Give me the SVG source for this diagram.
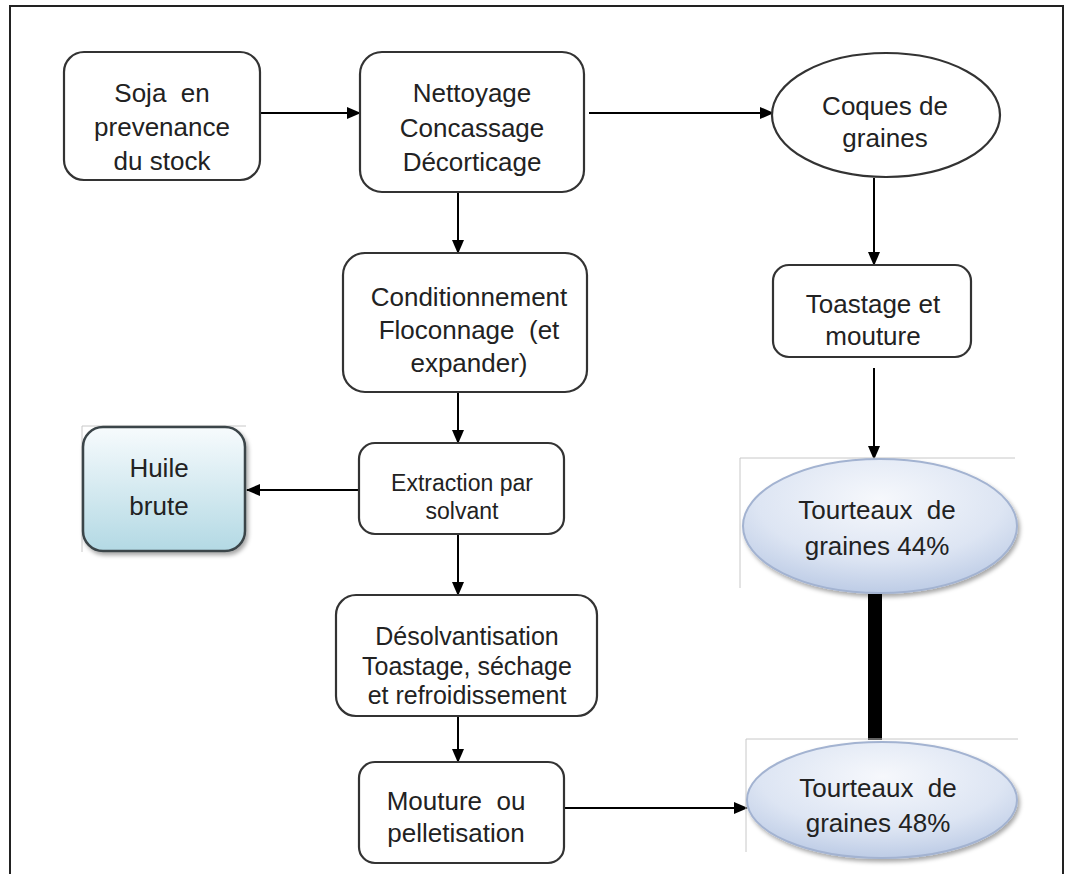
<svg xmlns="http://www.w3.org/2000/svg" width="1075" height="874" viewBox="0 0 1075 874">
<style>
.box{fill:#fff;stroke:#333;stroke-width:2.2}
.t{font-family:"Liberation Sans",Arial,sans-serif;font-size:26px;fill:#222;text-anchor:middle;white-space:pre}
.conn{stroke:#000;stroke-width:2;fill:none;marker-end:url(#arr)}
.faint{stroke:#c8c8c8;stroke-width:1;fill:none}
.oval{fill:url(#blue);stroke:#a3b3d1;stroke-width:2}
</style>
<defs>
<marker id="arr" markerUnits="userSpaceOnUse" markerWidth="14" markerHeight="12" refX="13" refY="6" orient="auto">
<path d="M0,0 L14,6 L0,12 Z" fill="#000"/>
</marker>
<linearGradient id="teal" x1="0" y1="0" x2="0" y2="1">
<stop offset="0" stop-color="#f7fbfd"/>
<stop offset="1" stop-color="#b3d9e4"/>
</linearGradient>
<radialGradient id="blue" cx="0.5" cy="0.3" r="0.75">
<stop offset="0" stop-color="#f6f8fc"/>
<stop offset="0.6" stop-color="#dde5f3"/>
<stop offset="1" stop-color="#b7c7e3"/>
</radialGradient>
<filter id="sh" x="-10%" y="-10%" width="130%" height="130%">
<feDropShadow dx="2" dy="3" stdDeviation="2" flood-color="#000" flood-opacity="0.35"/>
</filter>
</defs>
<rect width="1075" height="874" fill="#fff"/>
<path d="M10,874 V6 H1063 V874" fill="none" stroke="#222" stroke-width="2"/>

<g id="connectors">
<line class="conn" x1="260" y1="113" x2="360" y2="113"/>
<line class="conn" x1="589" y1="113" x2="773" y2="113"/>
<line class="conn" x1="458" y1="192" x2="458" y2="253"/>
<line class="conn" x1="874" y1="178" x2="874" y2="265"/>
<line class="conn" x1="874" y1="368" x2="874" y2="459"/>
<line class="conn" x1="458" y1="392" x2="458" y2="443"/>
<line class="conn" x1="358" y1="490" x2="247" y2="490"/>
<line class="conn" x1="458" y1="535" x2="458" y2="595"/>
<line class="conn" x1="458" y1="716" x2="458" y2="762"/>
<line class="conn" x1="564" y1="808" x2="747" y2="808"/>
<rect x="868" y="594" width="14" height="146" fill="#000"/>
</g>

<g id="soja">
<rect class="box" x="64" y="52" width="196" height="128" rx="20"/>
<text class="t" x="162" y="102" xml:space="preserve">Soja  en</text>
<text class="t" x="162" y="136">prevenance</text>
<text class="t" x="162" y="170">du stock</text>
</g>

<g id="nettoyage">
<rect class="box" x="360" y="52" width="224" height="140" rx="22"/>
<text class="t" x="472" y="102">Nettoyage</text>
<text class="t" x="472" y="137">Concassage</text>
<text class="t" x="472" y="171">Décorticage</text>
</g>

<g id="coques">
<ellipse cx="886" cy="115" rx="114" ry="62" fill="#fff" stroke="#333" stroke-width="2.2"/>
<text class="t" x="885" y="115">Coques de</text>
<text class="t" x="885" y="147">graines</text>
</g>

<g id="conditionnement">
<rect class="box" x="343" y="253" width="244" height="139" rx="22"/>
<text class="t" x="469" y="306">Conditionnement</text>
<text class="t" x="469" y="339" xml:space="preserve">Floconnage  (et</text>
<text class="t" x="469" y="372">expander)</text>
</g>

<g id="toastage">
<rect class="box" x="773" y="265" width="198" height="92" rx="16"/>
<text class="t" x="873" y="313">Toastage et</text>
<text class="t" x="873" y="345">mouture</text>
</g>

<g id="huile">
<path class="faint" d="M82,426 H246 M82,426 V552"/>
<rect x="83" y="427" width="162" height="124" rx="20" fill="url(#teal)" stroke="#3a4448" stroke-width="2.5" filter="url(#sh)"/>
<text class="t" x="159" y="477">Huile</text>
<text class="t" x="159" y="515">brute</text>
</g>

<g id="extraction">
<rect class="box" x="359" y="443" width="205" height="91" rx="16"/>
<text class="t" x="462" y="491" style="font-size:23px">Extraction par</text>
<text class="t" x="462" y="519" style="font-size:23px">solvant</text>
</g>

<g id="desolvantisation">
<rect class="box" x="336" y="595" width="261" height="121" rx="20"/>
<text class="t" x="467" y="645" style="font-size:25px">Désolvantisation</text>
<text class="t" x="467" y="675" style="font-size:25px">Toastage, séchage</text>
<text class="t" x="467" y="704" style="font-size:25px">et refroidissement</text>
</g>

<g id="mouture">
<rect class="box" x="359" y="762" width="205" height="101" rx="16"/>
<text class="t" x="456" y="810" xml:space="preserve">Mouture  ou</text>
<text class="t" x="456" y="842">pelletisation</text>
</g>

<g id="tourteaux44">
<path class="faint" d="M740,458 H1015 M740,458 V588"/>
<ellipse class="oval" cx="880" cy="526" rx="137" ry="67" filter="url(#sh)"/>
<text class="t" x="877" y="519" xml:space="preserve">Tourteaux  de</text>
<text class="t" x="877" y="555">graines 44%</text>
</g>

<g id="tourteaux48">
<path class="faint" d="M746,739 H1018 M746,739 V852"/>
<ellipse class="oval" cx="882" cy="800" rx="135" ry="58" filter="url(#sh)"/>
<text class="t" x="878" y="797" xml:space="preserve">Tourteaux  de</text>
<text class="t" x="878" y="832">graines 48%</text>
</g>
</svg>
